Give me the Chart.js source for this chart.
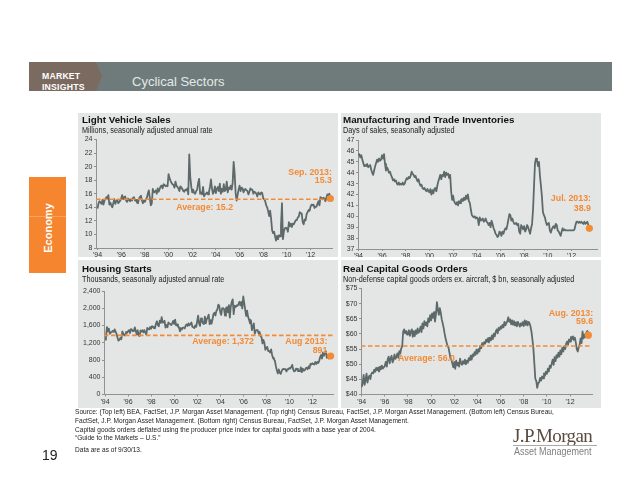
<!DOCTYPE html>
<html><head><meta charset="utf-8">
<script src="https://cdn.jsdelivr.net/npm/chart.js@4.4.1/dist/chart.umd.min.js"></script>
<style>
*{box-sizing:border-box}
html,body{margin:0;padding:0;background:#fff}
body{width:640px;height:495px;position:relative;overflow:hidden;font-family:"Liberation Sans",Arial,Helvetica,sans-serif;color:#222}
.abs{position:absolute;white-space:nowrap}
#bar{left:29px;top:62px;width:583px;height:29px;background:#6f7b7b}
#brand{left:29px;top:62px;width:73px;height:29px;background:#7a6a60;clip-path:polygon(0 0,67px 0,73px 50%,67px 100%,0 100%);overflow:hidden}
#mi{left:13px;top:9px;font-size:8.7px;font-weight:bold;color:#fff;line-height:10.5px;letter-spacing:0.2px}
#ttl{left:132px;top:73px;font-size:13px;color:#e3e8e8;line-height:18px}
#tab{left:29px;top:177px;width:37px;height:96px;background:#f5852f}
#tabline{left:29px;top:216px;width:37px;height:1px;background:rgba(255,255,255,0.25)}
#tabtxt{left:48px;top:228px;transform:translate(-50%,-50%) rotate(-90deg);font-size:11px;font-weight:bold;color:#fff;line-height:12px}
.panel{position:absolute;background:#e4e6e6}
.pt{position:absolute;font-weight:bold;font-size:9.8px;color:#111;line-height:11px;white-space:nowrap}
.ps{position:absolute;font-size:8.9px;color:#222;line-height:10px;white-space:nowrap;transform:scaleX(0.82);transform-origin:0 0}
canvas{position:absolute}
.foot{position:absolute;left:75px;font-size:7.6px;color:#222;line-height:9px;white-space:nowrap;transform:scaleX(0.865);transform-origin:0 0}
#pg{left:42px;top:446px;font-size:14px;color:#222;line-height:18px}
#jpm{left:513px;top:426px;font-family:"Liberation Serif","Times New Roman",serif;font-size:19px;color:#5b4a40;line-height:20px;letter-spacing:-0.6px}
#jpml{left:513px;top:445px;width:84px;height:1px;background:#a9a9a9}
#am{left:514px;top:446px;font-size:10px;color:#7f7f7f;line-height:12px;transform:scaleX(0.9);transform-origin:0 0}
</style></head>
<body>
<div id="bar" class="abs"></div>
<div id="brand" class="abs"><div id="mi" class="abs">MARKET<br>INSIGHTS</div></div>
<div id="ttl" class="abs">Cyclical Sectors</div>
<div id="tab" class="abs"></div>
<div id="tabline" class="abs"></div>
<div id="tabtxt" class="abs">Economy</div>

<div class="panel" style="left:78px;top:113px;width:260px;height:144px"></div>
<div class="panel" style="left:341px;top:113px;width:260px;height:144px"></div>
<div class="panel" style="left:78px;top:260px;width:260px;height:148px"></div>
<div class="panel" style="left:341px;top:260px;width:260px;height:148px"></div>

<canvas id="c1"></canvas>
<canvas id="c2"></canvas>
<canvas id="c3"></canvas>
<canvas id="c4"></canvas>

<div class="pt" style="left:82px;top:114px">Light Vehicle Sales</div>
<div class="ps" style="left:82px;top:125px">Millions, seasonally adjusted annual rate</div>
<div class="pt" style="left:343px;top:114px">Manufacturing and Trade Inventories</div>
<div class="ps" style="left:343px;top:125px">Days of sales, seasonally adjusted</div>
<div class="pt" style="left:82px;top:262.5px">Housing Starts</div>
<div class="ps" style="left:82px;top:273.5px">Thousands, seasonally adjusted annual rate</div>
<div class="pt" style="left:343px;top:262.5px">Real Capital Goods Orders</div>
<div class="ps" style="left:343px;top:273.5px">Non-defense capital goods orders ex. aircraft, $ bn, seasonally adjusted</div>

<div class="foot" style="top:407px">Source: (Top left) BEA, FactSet, J.P. Morgan Asset Management. (Top right) Census Bureau, FactSet, J.P. Morgan Asset Management. (Bottom left) Census Bureau,</div>
<div class="foot" style="top:416px">FactSet, J.P. Morgan Asset Management. (Bottom right) Census Bureau, FactSet, J.P. Morgan Asset Management.</div>
<div class="foot" style="top:425px">Capital goods orders deflated using the producer price index for capital goods with a base year of 2004.</div>
<div class="foot" style="top:433px">“Guide to the Markets – U.S.”</div>
<div class="foot" style="top:445px">Data are as of 9/30/13.</div>
<div id="pg" class="abs">19</div>
<div id="jpm" class="abs">J.P.Morgan</div>
<div id="jpml" class="abs"></div>
<div id="am" class="abs">Asset Management</div>

<script>
// ---------------- DATA ----------------
const xTickValues = [1994, 1996, 1998, 2000, 2002, 2004, 2006, 2008, 2010, 2012];
const xTickLabels = ["'94", "'96", "'98", "'00", "'02", "'04", "'06", "'08", "'10", "'12"];
const seriesStartYear = 1994;

// Light vehicle sales, millions SAAR, Jan 1994 - Sep 2013 (monthly)
const lightVehicleSales = [
 13.8,14.6,14.9,14.7,14.5,15.1,14.4,15.0,15.2,15.5,15.3,15.8,
 14.4,14.7,14.3,14.0,14.6,15.2,14.5,14.9,15.1,14.6,14.8,15.0,
 15.3,15.8,15.2,15.5,15.6,15.0,14.8,15.3,15.1,14.9,15.2,15.0,
 15.4,15.5,15.0,15.1,14.7,14.6,15.3,15.5,15.7,15.0,14.6,15.0,
 14.8,15.2,15.4,16.0,16.5,15.4,14.3,14.6,16.7,16.2,16.3,16.5,
 16.0,16.8,16.3,16.7,17.1,17.2,16.8,17.4,17.3,17.1,17.2,17.1,
 18.9,18.3,17.9,17.6,17.4,17.3,16.9,17.8,17.2,17.0,16.8,16.4,
 17.1,16.9,16.7,16.4,16.3,16.6,16.5,16.8,15.9,21.8,18.5,17.1,
 16.2,16.6,16.1,16.0,16.4,16.6,17.6,18.2,16.0,16.2,15.9,17.0,
 15.6,15.9,16.0,16.2,15.9,16.3,17.0,18.1,16.8,16.0,16.3,17.1,
 16.1,16.7,17.0,16.4,17.5,16.0,16.7,16.3,17.4,16.4,16.6,17.8,
 16.2,16.9,16.7,17.2,16.6,17.6,20.7,19.0,16.1,15.0,15.8,16.6,
 17.2,16.4,16.9,16.8,16.2,16.6,16.7,16.5,16.4,15.9,16.3,16.8,
 16.6,16.6,16.0,16.3,16.2,16.0,15.6,16.2,16.0,15.9,16.2,16.1,
 15.3,15.2,14.9,14.3,14.0,13.4,12.7,13.5,12.3,10.6,10.2,10.4,
 9.7,9.1,9.8,9.3,9.9,9.7,11.2,14.6,9.3,10.5,10.9,11.0,
 10.9,10.4,11.8,11.2,11.6,11.1,11.6,11.5,11.8,12.1,12.1,12.5,
 12.6,13.3,13.1,13.1,11.8,11.5,12.2,12.1,13.0,13.3,13.6,13.5,
 14.1,14.4,14.3,14.4,13.9,14.1,14.1,14.5,14.9,14.3,15.5,15.4,
 15.2,15.4,15.3,14.9,15.4,15.9,15.8,16.0,15.3
];
const lightVehicleAvg = 15.2;
const lightVehicleTicks = [8, 10, 12, 14, 16, 18, 20, 22, 24];

// Manufacturing & trade inventories, days of sales, Jan 1994 - Jul 2013
const inventoryDays = [
 45.6,45.7,45.4,45.6,45.2,44.9,44.6,44.7,44.6,44.8,44.5,44.6,
 44.7,44.3,44.0,43.8,44.2,44.6,44.9,45.2,45.0,45.3,45.1,45.2,
 45.6,45.3,45.7,44.8,44.2,44.5,44.3,44.0,44.1,43.8,43.6,43.3,
 43.4,43.2,43.3,43.0,42.9,43.1,42.9,43.0,42.9,43.1,42.9,43.0,
 43.3,43.5,43.4,43.6,43.5,43.7,44.1,43.9,43.8,43.6,43.7,43.4,
 43.2,43.4,43.0,42.8,42.9,42.6,42.5,42.6,42.4,42.3,42.5,42.3,
 42.2,42.5,42.0,42.4,42.1,42.5,42.6,42.3,42.8,43.2,43.5,43.8,
 43.4,43.8,43.7,44.1,43.6,44.0,43.8,43.9,43.5,43.8,42.3,41.5,
 41.9,41.4,41.2,41.1,41.3,41.0,41.4,41.2,41.5,41.6,41.4,41.7,
 41.5,41.9,41.6,42.0,41.4,41.2,40.6,40.1,40.0,39.9,40.0,39.8,
 39.9,39.8,39.2,39.9,39.6,39.7,39.8,39.5,39.6,39.8,39.5,39.4,
 39.2,39.4,39.0,39.6,39.3,38.9,38.7,38.4,38.3,38.1,38.2,38.6,
 38.5,38.2,38.6,38.4,38.7,38.9,38.8,39.2,39.7,40.2,40.1,39.6,
 39.8,39.5,39.3,39.3,39.4,39.2,39.3,38.6,38.4,39.2,39.0,38.8,
 39.1,38.6,38.8,39.2,39.0,38.7,38.4,38.9,39.3,40.6,42.8,44.9,
 45.3,45.1,44.6,45.0,43.7,42.8,41.8,40.4,40.1,39.9,39.5,39.2,
 39.3,39.4,38.7,38.5,38.8,39.0,39.1,38.9,39.3,39.2,38.7,38.6,
 38.4,38.2,38.6,38.9,38.7,38.8,38.7,38.7,38.7,38.7,38.7,38.7,
 38.7,38.7,38.7,38.8,39.2,39.5,39.5,39.4,39.5,39.4,39.5,39.4,
 39.3,39.5,39.3,39.4,39.5,39.2,38.9
];
const inventoryTicks = [37, 38, 39, 40, 41, 42, 43, 44, 45, 46, 47];

// Housing starts, thousands SAAR, Jan 1994 - Aug 2013
const housingStarts = [
 1272,1337,1564,1465,1526,1409,1439,1450,1474,1450,1511,1455,
 1407,1316,1249,1267,1314,1281,1461,1416,1369,1369,1452,1431,
 1467,1491,1424,1516,1504,1467,1472,1557,1475,1392,1489,1370,
 1355,1486,1457,1492,1442,1494,1437,1390,1546,1520,1510,1566,
 1525,1584,1567,1540,1536,1641,1698,1614,1582,1715,1660,1792,
 1666,1670,1710,1553,1611,1559,1669,1648,1635,1608,1648,1708,
 1636,1737,1604,1626,1575,1559,1463,1541,1507,1549,1551,1532,
 1600,1625,1590,1649,1605,1636,1670,1567,1562,1540,1602,1568,
 1698,1829,1642,1592,1764,1717,1655,1633,1804,1648,1753,1788,
 1853,1629,1726,1643,1751,1867,1897,1833,1939,1967,2083,2057,
 1911,1846,1998,2003,1981,1828,2002,2024,1905,2072,1782,2042,
 2144,2207,1864,2061,2025,2068,2054,2095,2151,2065,2147,1994,
 2273,2119,1969,1821,1942,1802,1737,1650,1720,1491,1570,1649,
 1409,1480,1495,1490,1415,1448,1354,1330,1183,1264,1197,1037,
 1084,1103,1005,1013,973,1046,923,844,820,777,652,560,
 490,582,505,478,540,585,594,586,585,534,588,581,
 614,604,636,687,583,536,546,599,594,543,545,539,
 630,517,600,554,561,608,623,585,650,610,711,694,
 723,704,695,753,708,757,728,770,863,915,833,976,
 898,969,1005,852,919,835,883,891
];
const housingAvg = 1372;
const housingTicks = [0, 400, 800, 1200, 1600, 2000, 2400];

// Real capital goods orders, $ bn, Jan 1994 - Aug 2013
const capitalGoodsOrders = [
 42.5,43.8,46.5,43.2,44.8,46.9,43.9,45.6,46.2,45.1,46.8,47.3,
 47.0,48.2,47.5,48.8,48.0,48.9,47.6,49.2,48.3,49.5,48.6,49.0,
 49.5,50.8,49.2,51.7,52.5,50.3,51.9,52.8,50.6,51.4,53.2,51.8,
 52.4,53.6,52.1,54.3,53.5,55.2,56.0,60.8,61.5,60.2,61.0,59.8,
 60.5,61.2,59.4,60.8,61.5,59.0,60.9,59.3,61.2,60.0,61.8,60.4,
 61.0,62.4,60.6,63.5,61.8,64.2,62.9,63.8,62.5,65.1,64.0,66.2,
 64.5,66.8,65.3,67.2,64.1,66.5,70.5,68.0,66.3,68.5,67.0,64.8,
 63.5,62.0,60.1,58.5,57.2,56.0,55.5,53.8,52.0,51.5,50.2,49.0,
 50.8,48.5,51.2,49.6,50.5,49.2,51.8,50.3,49.8,51.0,50.2,51.5,
 50.0,51.2,50.5,52.0,51.3,52.8,51.5,53.2,52.6,54.0,53.1,54.8,
 53.5,55.0,54.2,56.1,55.3,57.0,56.2,57.3,56.8,58.1,57.4,58.6,
 57.2,58.8,57.9,59.5,58.3,60.1,59.2,60.8,61.5,60.2,62.0,61.3,
 62.5,61.8,63.0,62.2,64.0,62.8,63.6,64.2,65.5,64.0,64.8,63.2,
 64.5,63.0,64.2,62.8,63.8,62.5,64.0,63.2,62.4,63.5,62.8,63.9,
 62.6,64.5,63.0,64.2,62.8,64.0,63.5,62.5,60.8,58.2,55.3,50.5,
 45.2,44.5,42.2,43.8,44.0,45.5,44.6,46.0,45.3,47.0,46.2,47.5,
 46.8,48.5,47.6,49.5,48.8,50.2,51.5,49.8,52.3,51.0,53.0,52.2,
 53.8,52.5,54.6,53.3,55.5,54.2,56.0,55.0,56.8,57.5,56.5,58.2,
 57.5,59.0,58.3,59.2,58.0,58.8,57.2,55.0,54.2,55.6,56.5,58.5,
 57.0,60.8,58.5,59.8,58.9,60.5,61.0,59.6
];
const capitalGoodsAvg = 56.0;
const capitalGoodsTicks = [40, 45, 50, 55, 60, 65, 70, 75];

// ---------------- DRAWING ----------------
const ORANGE = '#f38a34';
const LINE = '#5d6a69';
const AXIS = '#8e9292';
const FONT = '"Liberation Sans", Arial, sans-serif';

const annotPlugin = {
  id: 'annot',
  afterDatasetsDraw(chart, args, opts) {
    const { ctx } = chart; const xs = chart.scales.x, ys = chart.scales.y;
    ctx.save();
    ctx.fillStyle = ORANGE;
    ctx.font = 'bold 8.8px ' + FONT;
    ctx.textBaseline = 'middle';
    (opts.items || []).forEach(it => {
      ctx.textAlign = it.align;
      ctx.fillText(it.text, xs.getPixelForValue(it.x), ys.getPixelForValue(it.y));
    });
    ctx.restore();
  }
};

function build(cfg) {
  const cv = document.getElementById(cfg.id);
  const [pl, pt, pr, pb] = cfg.rect;
  const [al, at, ar, ab] = cfg.area;
  const W = pr - pl, H = pb - pt;
  cv.style.left = pl + 'px'; cv.style.top = pt + 'px';
  cv.width = W; cv.height = H; cv.style.width = W + 'px'; cv.style.height = H + 'px';
  const pts = cfg.values.map((v, i) => ({ x: seriesStartYear + i / 12, y: v }));
  const last = pts[pts.length - 1];
  const datasets = [{ data: [last], showLine: false, pointRadius: 3.6, pointBackgroundColor: ORANGE, pointBorderWidth: 0, clip: false }];
  if (cfg.avg != null) {
    datasets.push({ data: [{ x: cfg.xMin, y: cfg.avg }, { x: cfg.xMax, y: cfg.avg }], borderColor: ORANGE, borderWidth: 1.6, borderDash: [4.5, 2.5], pointRadius: 0 });
  }
  datasets.push({ data: pts, borderColor: LINE, borderWidth: 1.8, pointRadius: 0, tension: 0, borderJoinStyle: 'round' });
  new Chart(cv, {
    type: 'line',
    data: { datasets },
    options: {
      responsive: false, animation: false, devicePixelRatio: 1,
      layout: { padding: { top: at - pt, right: pr - ar, left: 0, bottom: 0 } },
      plugins: { legend: { display: false }, tooltip: { enabled: false }, annot: { items: cfg.notes } },
      scales: {
        x: {
          type: 'linear', min: cfg.xMin, max: cfg.xMax,
          afterBuildTicks: s => { s.ticks = xTickValues.map(v => ({ value: v })); },
          afterFit: s => { s.height = pb - ab; },
          ticks: { callback: v => { const k = xTickValues.indexOf(v); return k >= 0 ? xTickLabels[k] : ''; }, font: { size: 7, family: FONT }, color: '#333', padding: 1, maxRotation: 0, autoSkip: false },
          grid: { display: true, drawOnChartArea: false, tickLength: 2, color: AXIS },
          border: { display: true, color: AXIS, width: 1 }
        },
        y: {
          min: cfg.yMin, max: cfg.yMax,
          afterBuildTicks: s => { s.ticks = cfg.yTicks.map(v => ({ value: v })); },
          afterFit: s => { s.width = al - pl; },
          ticks: { callback: cfg.fmt, font: { size: 7, family: FONT }, color: '#333', padding: 1.5, autoSkip: false },
          grid: { display: true, drawOnChartArea: false, tickLength: 2, color: AXIS },
          border: { display: true, color: AXIS, width: 1 }
        }
      }
    },
    plugins: [annotPlugin]
  });
}

build({ id: 'c1', rect: [78, 113, 338, 257], area: [96, 139.5, 332, 248],
  xMin: 1993.87, xMax: 2013.81, yMin: 8, yMax: 24, yTicks: lightVehicleTicks, fmt: v => String(v),
  values: lightVehicleSales, avg: lightVehicleAvg,
  notes: [{ text: 'Sep. 2013:', x: 2013.8, y: 19.1, align: 'right' }, { text: '15.3', x: 2013.8, y: 17.9, align: 'right' },
          { text: 'Average: 15.2', x: 2003.05, y: 14.0, align: 'center' }] });

build({ id: 'c2', rect: [341, 113, 601, 257], area: [358, 140, 598, 249],
  xMin: 1993.97, xMax: 2014.15, yMin: 37, yMax: 47, yTicks: inventoryTicks, fmt: v => String(v),
  values: inventoryDays, avg: null,
  notes: [{ text: 'Jul. 2013:', x: 2013.64, y: 41.6, align: 'right' }, { text: '38.9', x: 2013.64, y: 40.7, align: 'right' }] });

build({ id: 'c3', rect: [78, 260, 338, 408], area: [104, 291, 333, 394.5],
  xMin: 1993.91, xMax: 2013.79, yMin: 0, yMax: 2400, yTicks: housingTicks, fmt: v => v.toLocaleString('en-US'),
  values: housingStarts, avg: housingAvg,
  notes: [{ text: 'Average: 1,372', x: 2001.57, y: 1218, align: 'left' }, { text: 'Aug 2013:', x: 2013.3, y: 1218, align: 'right' },
          { text: '891', x: 2013.3, y: 1010, align: 'right' }] });

build({ id: 'c4', rect: [341, 260, 601, 408], area: [361, 288.5, 592, 394.5],
  xMin: 1993.94, xMax: 2013.9, yMin: 40, yMax: 75, yTicks: capitalGoodsTicks, fmt: v => '$' + v,
  values: capitalGoodsOrders, avg: capitalGoodsAvg,
  notes: [{ text: 'Aug. 2013:', x: 2014.0, y: 66.85, align: 'right' }, { text: '59.6', x: 2014.0, y: 63.97, align: 'right' },
          { text: 'Average: 56.0', x: 1997.14, y: 52.0, align: 'left' }] });
</script>
</body></html>
